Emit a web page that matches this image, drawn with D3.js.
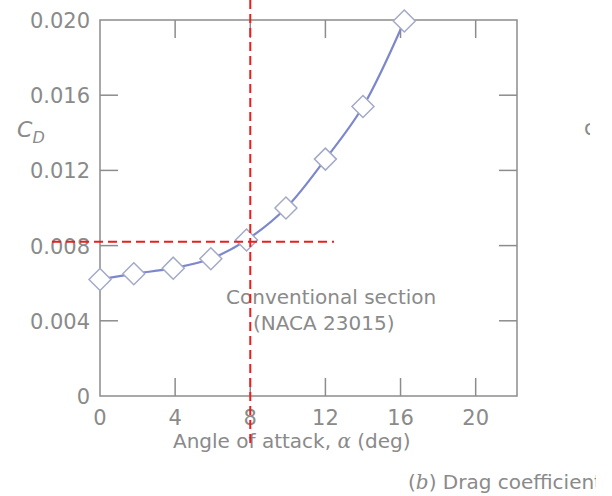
<!DOCTYPE html>
<html>
<head>
<meta charset="utf-8">
<script src="https://cdn.jsdelivr.net/npm/d3@7"></script>
<style>
  body { margin: 0; background: #fff; }
  text { font-family: "DejaVu Sans", sans-serif; fill: #8a8a8a; }
</style>
</head>
<body>
<svg width="612" height="496"></svg>
<script>
// angle of attack (deg) and drag coefficient
var alpha = [0, 1.8, 3.9, 5.9, 7.8, 9.9, 12, 14, 16.2];
var cd = [0.0062, 0.0065, 0.0068, 0.0073, 0.0083, 0.01, 0.0126, 0.0154, 0.01995];
var xTicks = [0, 4, 8, 12, 16, 20];
var yTicks = [0, 0.004, 0.008, 0.012, 0.016, 0.020];
var yTickLabels = ['0', '0.004', '0.008', '0.012', '0.016', '0.020'];
var markAlpha = 8, markCd = 0.0082;

var svg = d3.select('svg');
var mLeft = 100, mRight = 517, mTop = 20, mBottom = 396;

var x = d3.scaleLinear().domain([0, 22.2]).range([mLeft, mRight]);
var y = d3.scaleLinear().domain([0, 0.020]).range([mBottom, mTop]);

var axisColor = '#8c8c8c';
var tk = 18;
var fs = 21;   // tick numbers
var ts = 20;   // words

// frame
svg.append('rect')
  .attr('x', mLeft).attr('y', mTop)
  .attr('width', mRight - mLeft).attr('height', mBottom - mTop)
  .attr('fill', 'none').attr('stroke', axisColor).attr('stroke-width', 1.5);

var g = svg.append('g');
xTicks.forEach(function(t) {
  if (t === 0) return;
  g.append('line').attr('x1', x(t)).attr('x2', x(t))
    .attr('y1', mBottom).attr('y2', mBottom - tk)
    .attr('stroke', axisColor).attr('stroke-width', 1.5);
  g.append('line').attr('x1', x(t)).attr('x2', x(t))
    .attr('y1', mTop).attr('y2', mTop + tk)
    .attr('stroke', axisColor).attr('stroke-width', 1.5);
});
yTicks.forEach(function(t) {
  if (t === 0 || t === 0.020) return;
  g.append('line').attr('x1', mLeft).attr('x2', mLeft + tk)
    .attr('y1', y(t)).attr('y2', y(t))
    .attr('stroke', axisColor).attr('stroke-width', 1.5);
  g.append('line').attr('x1', mRight).attr('x2', mRight - tk)
    .attr('y1', y(t)).attr('y2', y(t))
    .attr('stroke', axisColor).attr('stroke-width', 1.5);
});

// tick labels
svg.selectAll('.xl').data(xTicks).enter().append('text')
  .attr('x', function(d) { return x(d); })
  .attr('y', 425)
  .attr('text-anchor', 'middle')
  .attr('font-size', fs)
  .text(function(d) { return d; });

svg.selectAll('.yl').data(yTicks).enter().append('text')
  .attr('x', 90)
  .attr('y', function(d) { return y(d) + 8; })
  .attr('text-anchor', 'end')
  .attr('font-size', fs)
  .text(function(d, i) { return yTickLabels[i]; });

// axis titles
var xt = svg.append('text').attr('x', 173).attr('y', 448).attr('font-size', ts);
xt.append('tspan').text('Angle of attack, ');
xt.append('tspan').attr('font-family', 'DejaVu Serif, serif').attr('font-style', 'italic').text('α');
xt.append('tspan').text(' (deg)');

var yt = svg.append('text').attr('x', 17).attr('y', 137)
  .attr('font-family', 'DejaVu Serif, serif').attr('font-style', 'italic').attr('font-size', 22);
yt.append('tspan').text('C');
yt.append('tspan').attr('dy', 6).attr('font-size', 16).text('D');

// annotation
svg.append('text').attr('x', 226).attr('y', 304).attr('font-size', ts).text('Conventional section');
svg.append('text').attr('x', 253).attr('y', 330).attr('font-size', ts).text('(NACA 23015)');

// curve
var pts = alpha.map(function(a, i) { return [a, cd[i]]; });
var line = d3.line()
  .x(function(d) { return x(d[0]); })
  .y(function(d) { return y(d[1]); })
  .curve(d3.curveCatmullRom.alpha(0.5));

svg.append('path').datum(pts)
  .attr('d', line)
  .attr('fill', 'none')
  .attr('stroke', '#7d87cc')
  .attr('stroke-width', 2.2);

svg.selectAll('.pt').data(pts).enter().append('path')
  .attr('transform', function(d) { return 'translate(' + x(d[0]) + ',' + y(d[1]) + ')'; })
  .attr('d', 'M0,-11L11,0L0,11L-11,0Z')
  .attr('fill', '#fff')
  .attr('stroke', '#a4aac6')
  .attr('stroke-width', 1.5);

// red dashed guides
svg.append('line')
  .attr('x1', x(markAlpha)).attr('x2', x(markAlpha))
  .attr('y1', 0).attr('y2', 448)
  .attr('stroke', '#e8201c').attr('stroke-width', 2)
  .attr('stroke-dasharray', '9,5');
svg.append('line')
  .attr('x1', 52).attr('x2', 334)
  .attr('y1', y(markCd)).attr('y2', y(markCd))
  .attr('stroke', '#e8201c').attr('stroke-width', 2)
  .attr('stroke-dasharray', '9,5');

// caption, cut off at the right edge as in the source scan
svg.append('clipPath').attr('id', 'cut').append('rect')
  .attr('x', 0).attr('y', 0).attr('width', 596).attr('height', 496);
svg.append('clipPath').attr('id', 'cut2').append('rect')
  .attr('x', 0).attr('y', 0).attr('width', 590).attr('height', 496);
var cap = svg.append('text').attr('x', 408).attr('y', 489).attr('font-size', ts)
  .attr('clip-path', 'url(#cut)');
cap.append('tspan').text('(');
cap.append('tspan').attr('font-family', 'DejaVu Serif, serif').attr('font-style', 'italic').text('b');
cap.append('tspan').text(') Drag coefficient');
svg.append('text').attr('x', 584).attr('y', 135).attr('font-size', fs)
  .attr('clip-path', 'url(#cut2)').text('c');
</script>
</body>
</html>
